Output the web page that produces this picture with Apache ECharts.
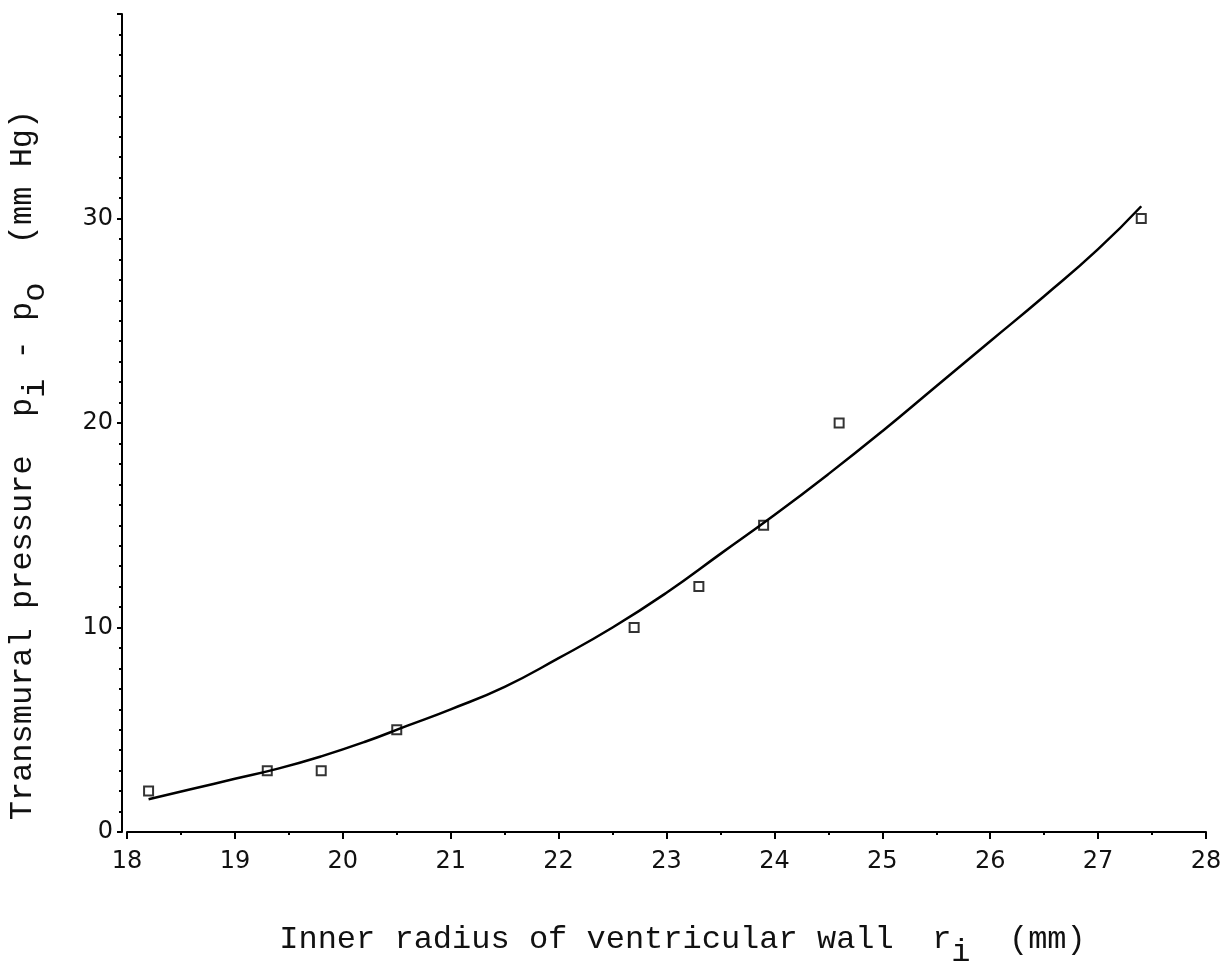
<!DOCTYPE html>
<html lang="en">
<head>
    <meta charset="UTF-8">
    <title>Transmural pressure vs inner radius</title>
    <script src="https://cdn.jsdelivr.net/npm/echarts@6/dist/echarts.min.js"></script>
    <style>
        html, body, #chart {
            width: 100%;
            height: 100%;
            margin: 0;
            padding: 0;
            background: #fff;
        }
        body { overflow: hidden; }
    </style>
</head>
<body>
    <div id="chart"></div>
    <script>
        // measured points (inner radius mm, pressure mm Hg)
        const radius = [18.2, 19.3, 19.8, 20.5, 22.7, 23.3, 23.9, 24.6, 27.4];
        const pressure = [2, 3, 3, 5, 10, 12, 15, 20, 30];

        // fitted curve
        const curveRadius = [18.2, 18.6, 19.0, 19.4, 19.8, 20.2, 20.6, 21.0, 21.5, 22.0, 22.5,
                             23.0, 23.5, 24.0, 24.5, 25.0, 25.5, 26.0, 26.5, 27.0, 27.4];
        const curvePressure = [1.6, 2.1, 2.6, 3.1, 3.7, 4.4, 5.2, 6.0, 7.1, 8.5, 10.0,
                               11.7, 13.6, 15.5, 17.5, 19.6, 21.8, 24.0, 26.2, 28.5, 30.6];

        const xTicks = [18, 19, 20, 21, 22, 23, 24, 25, 26, 27, 28];
        const yTicks = [0, 10, 20, 30];

        const tickFont = 'DejaVu Sans, sans-serif';
        const titleFont = '"Liberation Mono", "DejaVu Sans Mono", monospace';

        var chart = echarts.init(document.getElementById('chart'));

        var option = {
            backgroundColor: '#fff',
            animation: false,
            grid: { left: 127, right: 25, top: 14, bottom: 130, containLabel: false, outerBoundsMode: 'none' },
            xAxis: {
                type: 'value',
                min: xTicks[0],
                max: xTicks[xTicks.length - 1],
                interval: 1,
                offset: 6,
                splitLine: { show: false },
                axisLine: { lineStyle: { color: '#000', width: 2 } },
                axisTick: { length: 7, lineStyle: { color: '#000', width: 2 } },
                minorTick: { show: true, splitNumber: 2, length: 3, lineStyle: { color: '#000', width: 2 } },
                axisLabel: {
                    margin: 12,
                    fontFamily: tickFont,
                    fontSize: 24,
                    color: '#111'
                },
                name: 'Inner radius of ventricular wall  {m|r}{sub|i}  (mm)',
                nameLocation: 'middle',
                nameGap: 73,
                nameTextStyle: {
                    fontFamily: titleFont,
                    fontSize: 32,
                    color: '#111',
                    padding: [0, 0, 0, 32],
                    rich: {
                        m: { fontFamily: titleFont, fontSize: 32, color: '#111' },
                        sub: { fontFamily: titleFont, fontSize: 32, color: '#111', padding: [26, 0, 0, 0] }
                    }
                }
            },
            yAxis: {
                type: 'value',
                min: 0,
                max: 40,
                interval: 10,
                offset: 5,
                splitLine: { show: false },
                axisLine: { show: true, lineStyle: { color: '#000', width: 2 } },
                axisTick: { show: true, length: 5, lineStyle: { color: '#000', width: 2 } },
                minorTick: { show: true, splitNumber: 10, length: 3, lineStyle: { color: '#000', width: 2 } },
                axisLabel: {
                    margin: 9,
                    fontFamily: tickFont,
                    fontSize: 24,
                    color: '#111',
                    formatter: function (v) {
                        return yTicks.indexOf(v) >= 0 ? String(v) : '';
                    }
                },
                name: 'Transmural pressure  {m|p}{sub|i}{m| - p}{sub|o}  (mm Hg)',
                nameLocation: 'middle',
                nameRotate: 90,
                nameGap: 70,
                nameTextStyle: {
                    fontFamily: titleFont,
                    fontSize: 32,
                    color: '#111',
                    padding: [0, 84, 0, 0],
                    rich: {
                        m: { fontFamily: titleFont, fontSize: 32, color: '#111' },
                        sub: { fontFamily: titleFont, fontSize: 32, color: '#111', padding: [26, 0, 0, 0] }
                    }
                }
            },
            series: [
                {
                    name: 'fit',
                    type: 'line',
                    data: curveRadius.map((r, i) => [r, curvePressure[i]]),
                    smooth: true,
                    showSymbol: false,
                    lineStyle: { color: '#000', width: 2.5 }
                },
                {
                    name: 'measured',
                    type: 'scatter',
                    data: radius.map((r, i) => [r, pressure[i]]),
                    symbol: 'rect',
                    symbolSize: 9,
                    itemStyle: { color: '#fff', borderColor: '#000', borderWidth: 2 }
                }
            ]
        };

        chart.setOption(option);
        window.addEventListener('resize', function () {
            chart.resize();
        });
    </script>
</body>
</html>
